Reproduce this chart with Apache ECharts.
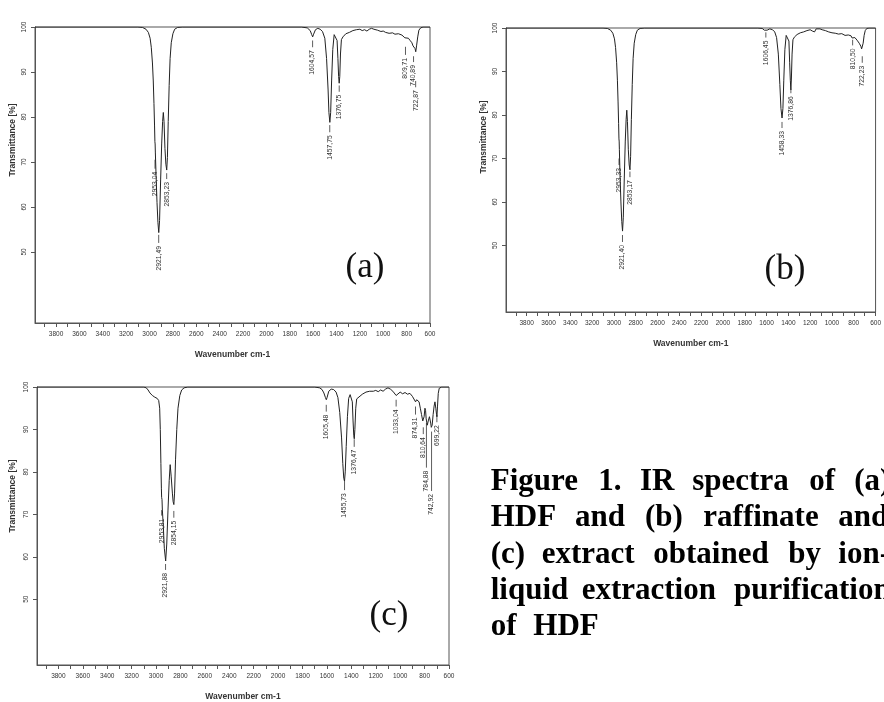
<!DOCTYPE html>
<html><head><meta charset="utf-8">
<script src="https://cdn.jsdelivr.net/npm/echarts@6/dist/echarts.min.js"></script>
<style>html,body{margin:0;padding:0;background:#fff}#c{width:884px;height:702px}</style>
</head><body><div id="c"></div>
<script>
// ---------- data: [wavenumber cm-1, transmittance %] ----------
const specA = [[3980,100],[3100,100],[3060,99.9],[3030,99.5],[3010,98.8],[2995,97.5],[2985,95.5],[2975,92],[2968,88],[2962,83],[2957,78],[2954,74.5],[2952,74],[2950,72],[2944,67],[2936,61],[2928,56.5],[2921,54.3],[2914,57],[2905,66],[2896,74],[2888,79],[2882,81],[2876,79],[2868,73],[2860,69.5],[2853,68.2],[2847,71],[2840,79],[2832,87],[2824,93],[2814,96.5],[2800,98.5],[2785,99.5],[2760,99.9],[2720,100],[1700,100],[1650,99.8],[1625,99.2],[1612,98.3],[1604,97.8],[1596,98.4],[1580,99.4],[1560,99.7],[1540,99.5],[1520,99],[1500,97.5],[1485,93],[1472,86],[1465,81],[1457,78.8],[1450,81],[1442,88],[1432,95],[1420,98.3],[1405,98.6],[1395,97],[1388,93],[1382,89],[1377,87.5],[1372,89],[1366,94],[1358,97.2],[1345,97.8],[1320,98.5],[1290,98.8],[1260,99.2],[1230,99.4],[1200,99.5],[1180,99.2],[1160,99.4],[1140,99.1],[1120,99.5],[1100,99.7],[1080,99.5],[1050,99.3],[1020,99],[1000,99.1],[980,98.8],[950,98.6],[920,98.7],[900,98.4],[870,98.5],[840,98.2],[825,98.3],[815,97.6],[809,97.2],[800,97.8],[785,97.5],[770,97],[755,96.5],[745,95.8],[740,95.5],[735,96],[728,95.2],[722,94.5],[715,95.8],[705,97.8],[695,99.3],[680,99.8],[660,100],[600,100]];
const specB = [[3990,100],[3100,100],[3060,99.9],[3030,99.5],[3010,98.8],[2995,97.5],[2985,95.5],[2975,92],[2968,88],[2962,83],[2957,78],[2954,74.5],[2952,74],[2950,72],[2944,66],[2936,60],[2928,55.5],[2921,53.3],[2914,56.5],[2905,65.5],[2896,74],[2888,79],[2882,81.1],[2876,78.5],[2868,72],[2860,68.5],[2853,67.4],[2847,70.5],[2840,79],[2832,87],[2824,93],[2814,96.5],[2800,98.5],[2785,99.5],[2760,99.9],[2720,100],[1680,100],[1640,99.9],[1620,99.5],[1606,99.2],[1595,99.5],[1570,99.8],[1545,99.6],[1525,99.1],[1508,97.8],[1492,94],[1478,87],[1468,81.5],[1458,79.3],[1450,81.5],[1442,88],[1432,95],[1420,98.3],[1405,98.6],[1395,97],[1388,92],[1382,88],[1377,85.8],[1372,88.5],[1366,94],[1358,97.3],[1345,97.9],[1320,98.5],[1290,98.9],[1260,99.1],[1230,99.4],[1200,99.6],[1180,99.3],[1160,99.1],[1145,99.8],[1130,99.4],[1110,99.8],[1090,99.6],[1060,99.4],[1030,99.1],[1000,98.9],[970,98.8],[940,98.6],[910,98.7],[880,98.3],[850,98.4],[825,98.2],[815,97.7],[810,97.5],[804,98],[790,97.8],[770,97.2],[750,96.5],[735,95.8],[728,95.2],[722,94.8],[714,96.5],[705,98.3],[695,99.4],[680,99.9],[660,100],[600,100]];
const specC = [[3975,100],[3100,100],[3080,99.8],[3065,99.3],[3050,98.6],[3030,98],[3010,97.6],[2990,97.3],[2978,96.8],[2970,95],[2965,90],[2960,82],[2956,76],[2954,74],[2951,73.5],[2948,71],[2940,67],[2932,62],[2921,59],[2912,63],[2902,71],[2892,78],[2884,81.7],[2876,79],[2866,75],[2860,73],[2854,72.3],[2848,75],[2840,83],[2830,90],[2820,95],[2805,98],[2790,99.3],[2770,99.8],[2740,100],[1700,100],[1660,99.8],[1640,99.4],[1625,98.6],[1612,97.5],[1605,97],[1598,97.6],[1585,99],[1565,99.5],[1545,99.4],[1525,98.8],[1510,97.5],[1495,94],[1480,88],[1470,82],[1462,78.5],[1456,77.8],[1450,80],[1442,86],[1432,93],[1422,97.3],[1410,98.2],[1400,98.2],[1392,96.5],[1386,92],[1380,88.5],[1376,87.8],[1371,90],[1364,95],[1356,97.2],[1340,97.6],[1310,98.3],[1280,98.8],[1250,99],[1220,99],[1200,99.2],[1180,98.9],[1160,99.3],[1140,99],[1120,99.5],[1100,99.8],[1080,99.5],[1060,99],[1045,98.6],[1033,98],[1020,98.3],[1000,98.8],[980,98.4],[960,98.7],[940,98.3],[920,98.5],[900,97.8],[885,97.5],[874,96.5],[865,97],[855,97.3],[845,96.5],[835,95],[825,93.5],[815,92],[810,91.7],[804,93],[797,95],[792,94.5],[787,92.5],[784,92],[778,91],[770,92],[760,93],[750,91.5],[745,90.5],[742,90.2],[738,91],[730,93.5],[722,95.5],[715,96.5],[708,95],[702,93.5],[699,93],[694,95.5],[688,98.5],[680,99.7],[660,100],[600,100]];

// peak annotations: wavenumber, text, marker top / bottom (transmittance %)
const peakWaveA = [2953.04, 2921.49, 2853.23, 1604.57, 1457.75, 1376.75, 809.71, 740.89, 722.87];
const peakTextA = ['2953,04','2921,49','2853,23','1604,57','1457,75','1376,75','809,71','740,89','722,87'];
const markTopA  = [70.5, 53.8, 67.5, 97.0, 78.2, 87.0, 95.6, 93.5, 88.0];
const markBotA  = [68.5, 52.0, 66.2, 95.5, 76.6, 85.6, 93.8, 92.2, 86.6];

const peakWaveB = [2953.33, 2921.40, 2853.17, 1606.45, 1458.33, 1376.86, 810.50, 722.23];
const peakTextB = ['2953,33','2921,40','2853,17','1606,45','1458,33','1376,86','810,50','722,23'];
const markTopB  = [70.0, 52.4, 67.0, 99.0, 78.4, 86.0, 97.3, 93.5];
const markBotB  = [68.5, 50.8, 65.7, 97.8, 77.0, 85.0, 96.0, 92.0];

const peakWaveC = [2953.81, 2921.88, 2854.15, 1605.48, 1455.73, 1376.47, 1033.04, 874.31, 810.64, 784.88, 742.92, 699.22];
const peakTextC = ['2953,81','2921,88','2854,15','1605,48','1455,73','1376,47','1033,04','874,31','810,64','784,88','742,92','699,22'];
const markTopC  = [71.0, 58.3, 70.8, 95.8, 77.8, 87.7, 97.0, 95.4, 90.5, 91.5, 89.5, 93.5];
const markBotC  = [69.7, 56.9, 69.2, 94.2, 75.7, 85.9, 95.4, 93.5, 88.9, 81.0, 75.5, 91.7];

const xTickValues  = [600,700,800,900,1000,1100,1200,1300,1400,1500,1600,1700,1800,1900,2000,2100,2200,2300,2400,2500,2600,2700,2800,2900,3000,3100,3200,3300,3400,3500,3600,3700,3800,3900];
const xLabelValues = [600,800,1000,1200,1400,1600,1800,2000,2200,2400,2600,2800,3000,3200,3400,3600,3800];
const yLabelValues = [50,60,70,80,90,100];

// ---------- chart ----------
const SANS = "'Liberation Sans Narrow','Liberation Sans',Arial,sans-serif";
const SANSW = "'Liberation Sans',Arial,sans-serif";
const SERIF = "'Liberation Serif','Times New Roman',serif";

const panels = [
  {spec: specA, pw: peakWaveA, pt: peakTextA, mt: markTopA, mb: markBotA,
   grid: {left: 35, top: 27, width: 395, height: 296}, xmax: 3980, ymin: 34.2},
  {spec: specB, pw: peakWaveB, pt: peakTextB, mt: markTopB, mb: markBotB,
   grid: {left: 506, top: 28, width: 372, height: 284}, xmax: 3990, ymin: 34.7},
  {spec: specC, pw: peakWaveC, pt: peakTextC, mt: markTopC, mb: markBotC,
   grid: {left: 37, top: 387, width: 412, height: 283}, xmax: 3975, ymin: 34.5}
];

const plain = v => String(Math.round(v));
const grids = [], xAxes = [], yAxes = [], series = [];
panels.forEach((p, i) => {
  grids.push(Object.assign({show: true, borderColor: '#555', borderWidth: 1, backgroundColor: 'transparent', containLabel: false}, p.grid));
  xAxes.push({
    gridIndex: i, type: 'value', inverse: true, min: 600, max: p.xmax,
    name: 'Wavenumber cm-1', nameLocation: 'middle', nameGap: 27,
    nameTextStyle: {fontSize: 8.5, fontWeight: 'bold', color: '#333', fontFamily: SANSW},
    axisLine: {show: true, onZero: false, lineStyle: {color: '#555', width: 1}},
    axisTick: {show: true, inside: false, length: 4, customValues: xTickValues, lineStyle: {color: '#555'}},
    axisLabel: {customValues: xLabelValues, formatter: plain, fontSize: 6.5, color: '#333', margin: 8, fontFamily: SANS},
    splitLine: {show: false}
  });
  yAxes.push({
    gridIndex: i, type: 'value', min: p.ymin, max: 100,
    axisLine: {show: true, onZero: false, lineStyle: {color: '#555', width: 1}},
    axisTick: {show: true, inside: false, length: 4, customValues: yLabelValues, lineStyle: {color: '#555'}},
    axisLabel: {customValues: yLabelValues, formatter: plain, rotate: 90, fontSize: 6.5, color: '#333', margin: 7, fontFamily: SANS},
    splitLine: {show: false}
  });
  series.push({
    type: 'line', xAxisIndex: i, yAxisIndex: i, data: p.spec,
    symbol: 'none', showSymbol: false, smooth: false,
    lineStyle: {color: '#222', width: 1}, silent: true
  });
  const texts = p.pt;
  series.push({
    type: 'custom', xAxisIndex: i, yAxisIndex: i, silent: true,
    data: p.pw.map((w, k) => [w, p.mt[k], p.mb[k], k]),
    renderItem: function (params, api) {
      const a = api.coord([api.value(0), api.value(1)]);
      const b = api.coord([api.value(0), api.value(2)]);
      return {
        type: 'group',
        children: [
          {type: 'line', shape: {x1: a[0], y1: a[1], x2: b[0], y2: b[1]},
           style: {stroke: '#333', lineWidth: 0.8}},
          {type: 'text', x: b[0], y: b[1] + 3, rotation: Math.PI / 2,
           style: {text: texts[api.value(3)], fill: '#333', font: '6.8px ' + SANS,
                   align: 'right', verticalAlign: 'middle', textAlign: 'right', textVerticalAlign: 'middle'}}
        ]
      };
    }
  });
});

const graphic = [];
// y-axis names
[[12.7, 140], [484, 137], [12.7, 496]].forEach(c => {
  graphic.push({type: 'text', x: c[0], y: c[1], rotation: Math.PI / 2, silent: true,
    style: {text: 'Transmittance [%]', font: 'bold 8.5px ' + SANSW, fill: '#333',
            align: 'center', verticalAlign: 'middle', textAlign: 'center', textVerticalAlign: 'middle'}});
});
// panel letters
[['(a)', 365, 268], ['(b)', 785, 270], ['(c)', 389, 616]].forEach(c => {
  graphic.push({type: 'text', x: c[1], y: c[2], silent: true,
    style: {text: c[0], font: '35px ' + SERIF, fill: '#111',
            align: 'center', verticalAlign: 'middle', textAlign: 'center', textVerticalAlign: 'middle'}});
});
// caption (justified paragraph, word by word)
const captionLines = [
  [['Figure', 490.7], ['1.', 598.3], ['IR', 640], ['spectra', 692.3], ['of', 809.3], ['(a)', 854.3]],
  [['HDF', 490.7], ['and', 575], ['(b)', 645], ['raffinate', 703.3], ['and', 838.3]],
  [['(c)', 490.7], ['extract', 541.7], ['obtained', 653.3], ['by', 788.3], ['ion-', 838.3]],
  [['liquid', 490.7], ['extraction', 581.7], ['purification', 734]],
  [['of', 490.7], ['HDF', 533.3]]
];
captionLines.forEach((line, li) => {
  line.forEach(w => {
    graphic.push({type: 'text', x: w[1], y: 482 + li * 36.3, silent: true,
      style: {text: w[0], font: 'bold 31px ' + SERIF, fill: '#000',
              align: 'left', verticalAlign: 'middle', textAlign: 'left', textVerticalAlign: 'middle'}});
  });
});

const chart = echarts.init(document.getElementById('c'), null, {renderer: 'canvas'});
chart.setOption({
  animation: false,
  backgroundColor: '#fff',
  grid: grids, xAxis: xAxes, yAxis: yAxes, series: series,
  graphic: graphic
});
</script>
</body></html>
